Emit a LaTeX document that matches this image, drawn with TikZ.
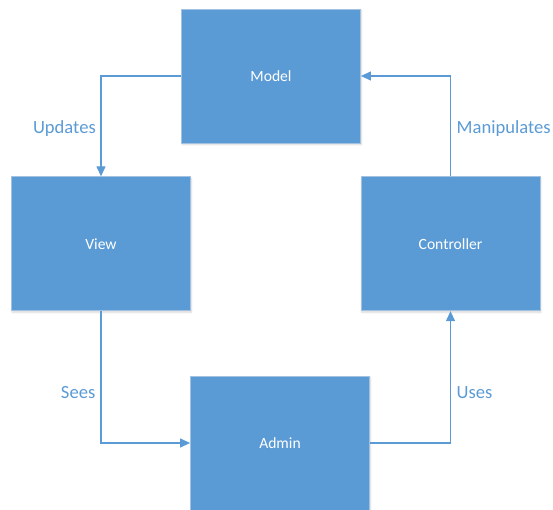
\documentclass[tikz,border=0pt]{standalone}
\usepackage{fontspec}
\setmainfont{Carlito}
\usetikzlibrary{arrows.meta,shadows.blur}
\definecolor{boxblue}{HTML}{5B9BD5}
\definecolor{boxedge}{HTML}{A3C2E2}
\definecolor{lineblue}{HTML}{5B9BD5}
\begin{document}
\begin{tikzpicture}[x=1pt,y=-1pt,
  box/.style={draw=boxedge, fill=boxblue, line width=0.8pt,
    minimum width=179pt, minimum height=134pt, inner sep=0pt,
    text=white, font=\fontsize{15.6}{18}\selectfont,
    blur shadow={shadow xshift=0.8pt, shadow yshift=-1.5pt,
      shadow blur steps=6, shadow opacity=16}},
  link/.style={draw=lineblue, line width=1.2pt,
    -{Triangle[length=10pt,width=9pt]}},
  tag/.style={text=lineblue, font=\fontsize{18.6}{22}\selectfont, inner sep=0pt}]
  \useasboundingbox (0,0) rectangle (553,510);

  % the four parts of the pattern
  \node[box] (model)      at (271,76)      {Model};
  \node[box] (view)       at (101,243.75)  {View};
  \node[box] (controller) at (450.5,243.75) {Controller};
  \node[box] (admin)      at (280,443)     {Admin};

  % relations between them
  \draw[link] (model.west) -| (view.north);
  \draw[link] (view.south) |- (admin.west);
  \draw[link] (admin.east) -| (controller.south);
  \draw[link] (controller.north) |- (model.east);

  % relation names
  \node[tag, anchor=base east] (updates)     at (96,133.4)    {Updates};
  \node[tag, anchor=base west] (manipulates) at (456.5,133.4) {Manipulates};
  \node[tag, anchor=base east] (sees)        at (95.5,398)    {Sees};
  \node[tag, anchor=base west] (uses)        at (456.5,398)   {Uses};
\end{tikzpicture}
\end{document}
